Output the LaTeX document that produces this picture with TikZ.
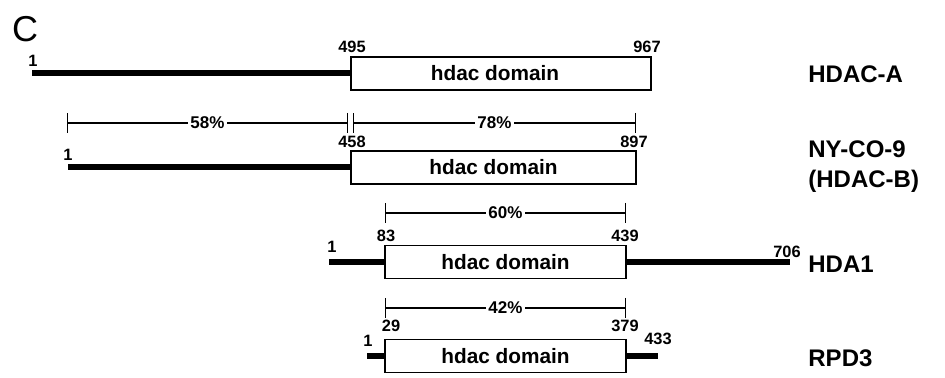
\documentclass[tikz,border=0pt]{standalone}
\usepackage{fontspec}
\setmainfont{Liberation Sans}
\usetikzlibrary{arrows.meta}
\begin{document}
\begin{tikzpicture}[x=0.5pt,y=-0.5pt,
  dombox/.style={draw,line width=0.8pt,inner sep=0pt,minimum height=16.5pt,font=\bfseries\fontsize{10.4}{12}\selectfont},
  thick line/.style={line width=3pt},
  num/.style={inner sep=0pt,font=\bfseries\fontsize{8.2}{9}\selectfont},
  pct/.style={inner sep=1pt,fill=white,font=\bfseries\fontsize{8.5}{9}\selectfont},
  ident/.style={anchor=west,inner sep=0pt,align=left,font=\bfseries\fontsize{12}{15}\selectfont},
  span/.style={line width=0.6pt,{Bar[width=10pt,line width=0.7pt]}-{Bar[width=10pt,line width=0.7pt]}}]
\useasboundingbox (0,0) rectangle (945,378);
\node[inner sep=0pt,font=\fontsize{18}{20}\selectfont] (C) at (25,29) {C};
% HDAC-A
\node[dombox,minimum width=150pt] (bA) at (501,73.5) {};
\node[inner sep=0pt,font=\bfseries\fontsize{10.4}{12}\selectfont] (tA) at (495,73.5) {hdac domain};
\coordinate (sA) at (32,73.5);
\draw[thick line] (sA) -- (bA.west);
\node[num] (nA1) at (33,61) {1};
\node[num] (nA2) at (352,47) {495};
\node[num] (nA3) at (647,47) {967};
\node[ident] (lA) at (808,74) {HDAC-A};
% spans 58 / 78
\coordinate (p1l) at (67,123);
\coordinate (p1r) at (348,123);
\coordinate (p2l) at (353,123);
\coordinate (p2r) at (636,123);
\draw[span] (p1l) -- node[pct] (t58) {58\%} (p1r);
\draw[span] (p2l) -- node[pct] (t78) {78\%} (p2r);
% NY-CO-9
\node[dombox,minimum width=142.5pt] (bB) at (493.5,167.5) {hdac domain};
\coordinate (sB) at (68,167.5);
\draw[thick line] (sB) -- (bB.west);
\node[num] (nB1) at (68,155) {1};
\node[num] (nB2) at (352,142) {458};
\node[num] (nB3) at (634,142) {897};
\node[ident] (lB) at (808,167) {NY-CO-9\\(HDAC-B)};
% span 60
\coordinate (p3l) at (385,213);
\coordinate (p3r) at (626,213);
\draw[span] (p3l) -- node[pct] (t60) {60\%} (p3r);
% HDA1
\node[dombox,minimum width=120.5pt] (bC) at (505.5,262) {hdac domain};
\coordinate (sC) at (329,262);
\coordinate (eC) at (790,262);
\draw[thick line] (sC) -- (bC.west);
\draw[thick line] (bC.east) -- (eC);
\node[num] (nC1) at (332,247) {1};
\node[num] (nC2) at (386,236) {83};
\node[num] (nC3) at (625,236) {439};
\node[num] (nC4) at (787,252) {706};
\node[ident] (lC) at (808,264) {HDA1};
% span 42
\coordinate (p4l) at (385,308);
\coordinate (p4r) at (626,308);
\draw[span] (p4l) -- node[pct] (t42) {42\%} (p4r);
% RPD3
\node[dombox,minimum width=120.5pt] (bD) at (505.5,356) {hdac domain};
\coordinate (sD) at (367,356);
\coordinate (eD) at (658,356);
\draw[thick line] (sD) -- (bD.west);
\draw[thick line] (bD.east) -- (eD);
\node[num] (nD1) at (368,341) {1};
\node[num] (nD2) at (391,326) {29};
\node[num] (nD3) at (625,326) {379};
\node[num] (nD4) at (658,339) {433};
\node[ident] (lD) at (808,358) {RPD3};
\end{tikzpicture}
\end{document}
